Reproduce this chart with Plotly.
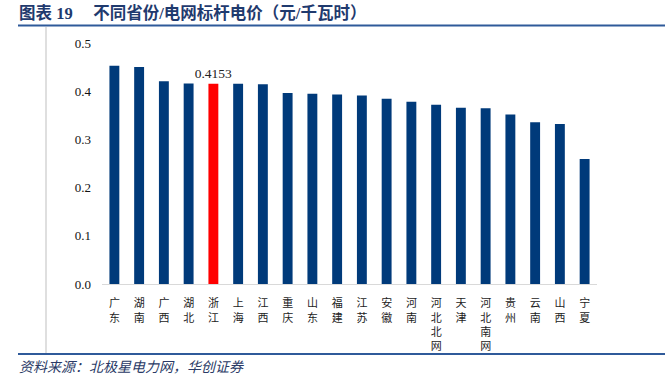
import plotly.graph_objects as go

categories = ["广东", "湖南", "广西", "湖北", "浙江", "上海", "江西", "重庆", "山东", "福建",
              "江苏", "安徽", "河南", "河北北网", "天津", "河北南网", "贵州", "云南", "山西", "宁夏"]
prices = [0.453, 0.450, 0.4207, 0.4161, 0.4153, 0.4155, 0.4143, 0.3964, 0.3949, 0.3932,
          0.391, 0.3844, 0.3779, 0.372, 0.3655, 0.3644, 0.3515, 0.3358, 0.332, 0.2595]
highlight = "浙江"
y_ticks = [0.0, 0.1, 0.2, 0.3, 0.4, 0.5]

NAVY = "#003A7A"
RED = "#FF0000"
colors = [RED if c == highlight else NAVY for c in categories]
labels = [f"{v:.4f}" if c == highlight else "" for c, v in zip(categories, prices)]
tick_text = ["<br>".join(list(c)) for c in categories]

W, H = 667, 376
ML, MR, MT, MB = 102, 70, 43, 92

fig = go.Figure()
fig.add_trace(go.Bar(
    x=categories, y=prices,
    marker=dict(color=colors, line=dict(width=0)),
    text=labels, textposition="outside", cliponaxis=False,
    constraintext="none",
    textfont=dict(family="Liberation Serif, Times New Roman, serif", size=13.5, color="#222222"),
    hoverinfo="x+y",
))

fig.update_layout(
    width=W, height=H,
    margin=dict(l=ML, r=MR, t=MT, b=MB),
    paper_bgcolor="white", plot_bgcolor="white",
    bargap=0.6,
    showlegend=False,
    xaxis=dict(
        type="category",
        tickmode="array", tickvals=categories, ticktext=tick_text,
        tickfont=dict(family="Noto Sans CJK SC", size=11, color="#222222"),
        showline=True, linecolor="#D9D9D9", linewidth=1,
        ticks="", showgrid=False, zeroline=False,
        tickangle=0,
        ticklabelstandoff=9,
    ),
    yaxis=dict(
        range=[0, 0.5],
        tickmode="array", tickvals=y_ticks,
        ticktext=[f"{v:.1f}" for v in y_ticks],
        tickfont=dict(family="Liberation Serif, Times New Roman, serif", size=13, color="#111111"),
        showline=False, showgrid=False, zeroline=False, ticks="",
        ticklabelstandoff=10,
    ),
)

plot_h = H - MT - MB
plot_w = W - ML - MR

def py(pix):
    return (H - MB - pix) / plot_h

def px(pix):
    return (pix - ML) / plot_w

fig.add_annotation(
    xref="paper", yref="paper", x=px(17), y=py(13), xanchor="left", yanchor="middle",
    text="<b>图表&nbsp;19&nbsp;&nbsp;&nbsp;&nbsp;&nbsp;不同省份/电网标杆电价（元/千瓦时）</b>",
    font=dict(family="Liberation Serif, Noto Sans CJK SC", size=16.5, color="#1F3A6E"),
    showarrow=False,
)
fig.add_annotation(
    xref="paper", yref="paper", x=px(17), y=py(366), xanchor="left", yanchor="middle",
    text="<i>资料来源：北极星电力网，华创证券</i>",
    font=dict(family="Noto Sans CJK SC", size=14, color="#2A3A66"),
    showarrow=False,
)

fig.add_shape(type="line", xref="paper", yref="paper",
              x0=px(18), x1=px(665), y0=py(25.5), y1=py(25.5),
              line=dict(color="#2F5A9A", width=2))
fig.add_shape(type="line", xref="paper", yref="paper",
              x0=px(18), x1=px(665), y0=py(354), y1=py(354),
              line=dict(color="#2F5A9A", width=2))
fig.add_shape(type="line", xref="paper", yref="paper",
              x0=px(46), x1=px(46), y0=py(27), y1=py(353),
              line=dict(color="#BFBFBF", width=1))

fig.write_html("out.html", config={"displayModeBar": False},
               post_script="document.body.style.margin='0';document.body.style.overflow='hidden';")
